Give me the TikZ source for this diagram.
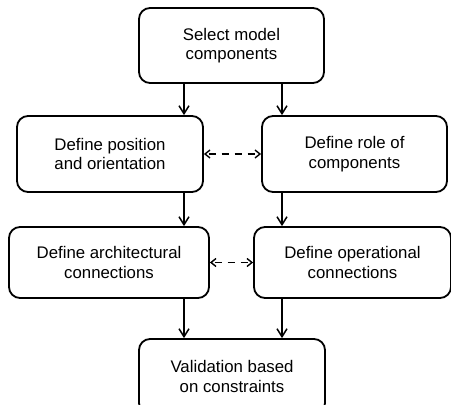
\documentclass[tikz,border=0pt]{standalone}
\usepackage{fontspec}
\setmainfont{Liberation Sans}
\usetikzlibrary{arrows.meta}
\begin{document}
\begin{tikzpicture}[x=1pt,y=-1pt,
  box/.style={draw, line width=1.8pt, rounded corners=11pt, align=center,
    inner sep=0pt, font=\fontsize{16.8}{19.5}\selectfont},
  flow/.style={line width=1.7pt, -{Straight Barb[length=8pt,width=10pt,line width=1.5pt]}},
  link/.style={line width=1.6pt, dash pattern=on 7pt off 6pt, dash phase=-3pt,
    {Straight Barb[length=5pt,width=8pt,line width=1.4pt]}-{Straight Barb[length=5pt,width=8pt,line width=1.4pt]}}]
\clip (0,0) rectangle (451,405);
\useasboundingbox (0,0) rectangle (451,405);
\node[box, minimum width=185pt, minimum height=75pt] (sel) at (231.5,45.5) {Select model\\components};
\node[box, minimum width=186pt, minimum height=76pt] (pos) at (110,154) {Define position\\and orientation};
\node[box, minimum width=185pt, minimum height=76pt] (role) at (354.5,154) {Define role of\\components};
\node[box, minimum width=200pt, minimum height=71pt] (arch) at (109,262.5) {Define architectural\\connections};
\node[box, minimum width=197pt, minimum height=71pt] (oper) at (352.5,262.5) {Define operational\\connections};
\node[box, minimum width=186pt, minimum height=75pt, yshift=-4pt] (val) at (232,372.5) {Validation based\\on constraints};
\coordinate (cl) at (184,0);
\coordinate (cr) at (282,0);
\draw[flow] (sel.south -| cl) -- (pos.north -| cl);
\draw[flow] (sel.south -| cr) -- (role.north -| cr);
\draw[flow] (pos.south -| cl) -- (arch.north -| cl);
\draw[flow] (role.south -| cr) -- (oper.north -| cr);
\draw[flow] (arch.south -| cl) -- (val.north -| cl);
\draw[flow] (oper.south -| cr) -- (val.north -| cr);
\draw[link] (pos.east) -- (role.west);
\draw[link] (arch.east) -- (oper.west);
\end{tikzpicture}
\end{document}
